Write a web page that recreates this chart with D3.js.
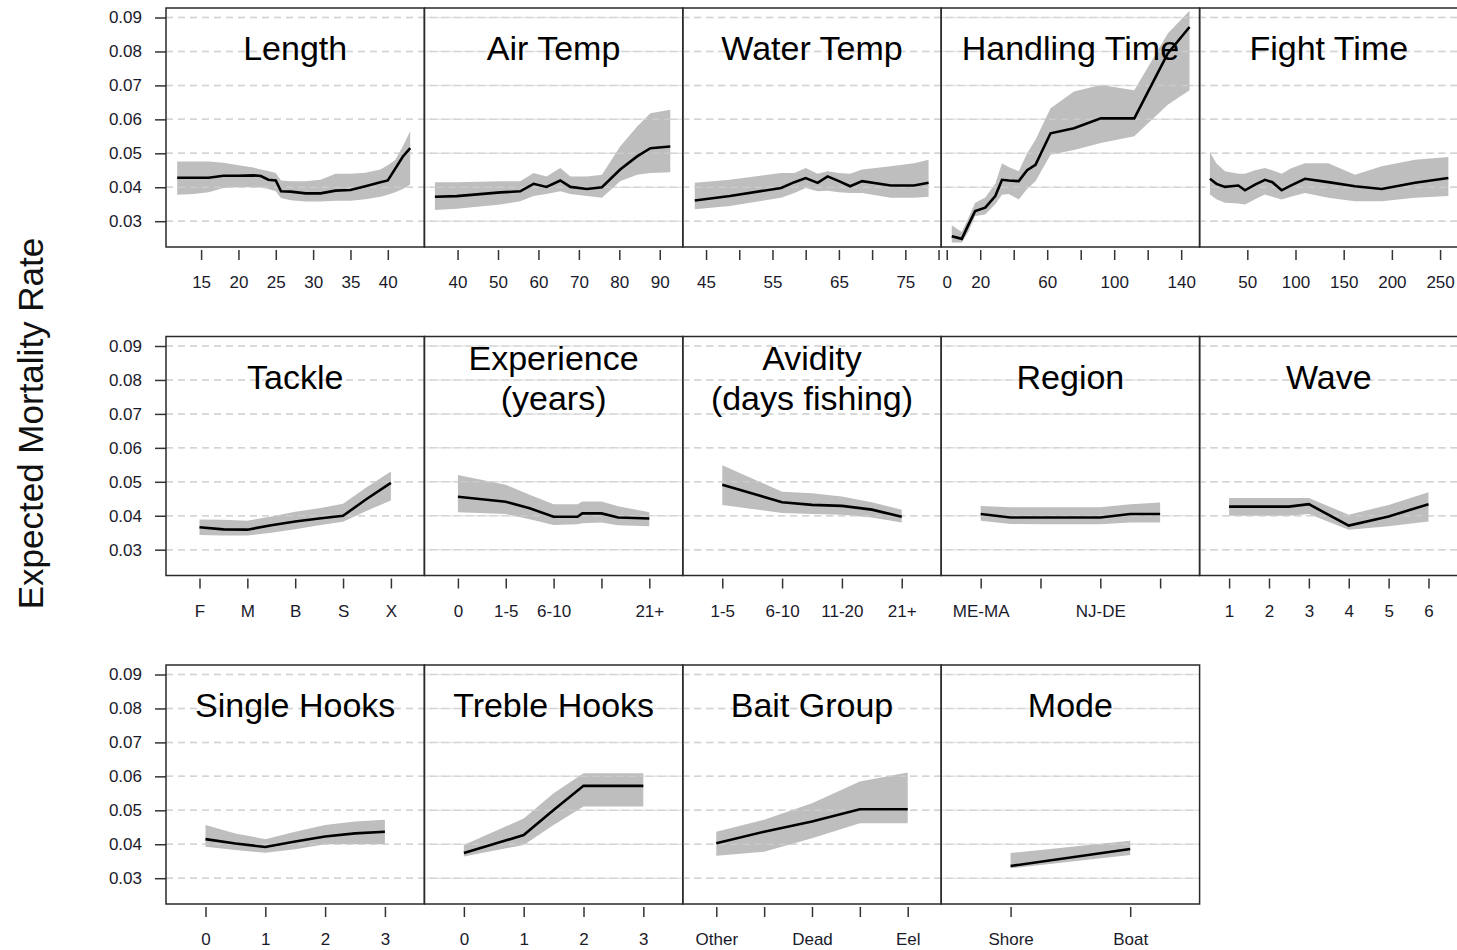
<!DOCTYPE html>
<html lang="en">
<head>
<meta charset="UTF-8">
<title>Expected Mortality Rate</title>
<style>
  body { margin: 0; background: #fff; }
  text { font-family: "Liberation Sans", Arial, sans-serif; }
</style>
</head>
<body>
<script src="https://cdn.jsdelivr.net/npm/d3@7"></script>
<script>
// ---- data ----
const yTicks = [0.03, 0.04, 0.05, 0.06, 0.07, 0.08, 0.09];
const yDomain = [0.0224, 0.0928];

// continuous panels
const lengthX = [11.8, 14, 16, 18, 20, 22, 23, 24, 25, 25.7, 27, 29, 31, 33, 35, 37, 39, 40, 41, 42, 43];
const lengthMean = [0.0428, 0.0428, 0.0428, 0.0434, 0.0434, 0.0435, 0.0433, 0.0422, 0.0420, 0.0388, 0.0387, 0.0382, 0.0382, 0.0390, 0.0392, 0.0403, 0.0415, 0.0420, 0.0455, 0.0490, 0.0515];
const lengthUpper = [0.0476, 0.0476, 0.0476, 0.0472, 0.0465, 0.0458, 0.0452, 0.0448, 0.0442, 0.0420, 0.0418, 0.0418, 0.0422, 0.0440, 0.0440, 0.0443, 0.0452, 0.0465, 0.0480, 0.0520, 0.0566];
const lengthLower = [0.0378, 0.0380, 0.0385, 0.0398, 0.0400, 0.0400, 0.0399, 0.0395, 0.0388, 0.0368, 0.0362, 0.0358, 0.0358, 0.0360, 0.0360, 0.0365, 0.0372, 0.0378, 0.0385, 0.0395, 0.0408];
const lengthDomain = [10.3, 44.9];
const lengthTicks = [15, 20, 25, 30, 35, 40];
const lengthLabels = ["15", "20", "25", "30", "35", "40"];

const airX = [34.4, 39.8, 50.6, 55.5, 58.8, 62, 65.4, 67.9, 72, 75.7, 80.2, 84.4, 87.7, 92.6];
const airMean = [0.0372, 0.0374, 0.0385, 0.0388, 0.0410, 0.0401, 0.0420, 0.0401, 0.0395, 0.0400, 0.0452, 0.0491, 0.0515, 0.0520];
const airUpper = [0.0415, 0.0415, 0.0418, 0.0418, 0.0442, 0.0432, 0.0457, 0.0432, 0.0432, 0.0437, 0.0520, 0.0579, 0.0618, 0.0628];
const airLower = [0.0333, 0.0337, 0.0349, 0.0359, 0.0374, 0.0380, 0.0388, 0.0380, 0.0374, 0.0369, 0.0418, 0.0437, 0.0442, 0.0444];
const airDomain = [31.8, 95.7];
const airTicks = [40, 50, 60, 70, 80, 90];
const airLabels = ["40", "50", "60", "70", "80", "90"];

const waterX = [43.3, 48.6, 56.3, 58.3, 60, 61.8, 63.3, 65, 66.7, 68.5, 72.8, 76.3, 78.5];
const waterMean = [0.0361, 0.0374, 0.0398, 0.0415, 0.0427, 0.0413, 0.0432, 0.0418, 0.0403, 0.0418, 0.0405, 0.0405, 0.0413];
const waterUpper = [0.0413, 0.0422, 0.0442, 0.0442, 0.0457, 0.0440, 0.0447, 0.0442, 0.0440, 0.0452, 0.0462, 0.0471, 0.0481];
const waterLower = [0.0335, 0.0345, 0.0369, 0.0383, 0.0398, 0.0388, 0.0390, 0.0385, 0.0383, 0.0383, 0.0369, 0.0369, 0.0372];
const waterDomain = [41.5, 80.4];
const waterTicks = [45, 50, 55, 60, 65, 70, 75, 80];
const waterLabels = ["45", "", "55", "", "65", "", "75", ""];

const handlingX = [3, 9, 13, 17, 23, 29, 33, 37, 43, 48, 53, 62, 76, 92, 112, 132, 145];
const handlingMean = [0.0256, 0.0248, 0.0290, 0.0330, 0.0340, 0.0374, 0.0422, 0.0420, 0.0418, 0.0450, 0.0466, 0.0559, 0.0574, 0.0603, 0.0603, 0.0794, 0.0872];
const handlingUpper = [0.0288, 0.0268, 0.0310, 0.0354, 0.0370, 0.0410, 0.0471, 0.0460, 0.0447, 0.0500, 0.0540, 0.0633, 0.0682, 0.0701, 0.0686, 0.0853, 0.0920];
const handlingLower = [0.0237, 0.0237, 0.0270, 0.0315, 0.0320, 0.0350, 0.0378, 0.0380, 0.0364, 0.0395, 0.0418, 0.0496, 0.0510, 0.0530, 0.0550, 0.0643, 0.0686];
const handlingDomain = [-3.3, 151];
const handlingTicks = [0, 20, 40, 60, 80, 100, 120, 140];
const handlingLabels = ["0", "20", "", "60", "", "100", "", "140"];

const fightX = [11.2, 18, 26.8, 40.7, 47.6, 58, 68.3, 76, 85.6, 95, 109.8, 134, 161.7, 189.4, 224, 258.6];
const fightMean = [0.0425, 0.0410, 0.0401, 0.0405, 0.0391, 0.0408, 0.0422, 0.0415, 0.0391, 0.0405, 0.0425, 0.0415, 0.0403, 0.0395, 0.0413, 0.0427];
const fightUpper = [0.0503, 0.0470, 0.0447, 0.0440, 0.0440, 0.0450, 0.0457, 0.0450, 0.0440, 0.0455, 0.0471, 0.0471, 0.0437, 0.0462, 0.0481, 0.0489];
const fightLower = [0.0379, 0.0365, 0.0354, 0.0352, 0.0349, 0.0365, 0.0379, 0.0372, 0.0364, 0.0372, 0.0383, 0.0369, 0.0359, 0.0359, 0.0369, 0.0374];
const fightDomain = [0.5, 268.6];
const fightTicks = [50, 100, 150, 200, 250];
const fightLabels = ["50", "100", "150", "200", "250"];

// categorical panels (x = category position 1..n)
const tackleCats = ["F", "M", "B", "S", "X"];
const tackleX = [1, 1.5, 2, 2.5, 3, 3.5, 4, 4.5, 5];
const tackleMean = [0.0366, 0.0360, 0.0359, 0.0372, 0.0383, 0.0392, 0.0400, 0.0450, 0.0497];
const tackleUpper = [0.0389, 0.0388, 0.0385, 0.0398, 0.0412, 0.0422, 0.0435, 0.0485, 0.0530];
const tackleLower = [0.0343, 0.0342, 0.0342, 0.0350, 0.0360, 0.0372, 0.0382, 0.0415, 0.0445];

const experienceCats = ["0", "1-5", "6-10", "", "21+"];
const experienceX = [1, 2, 2.5, 3, 3.5, 3.6, 4, 4.35, 5];
const experienceMean = [0.0456, 0.0441, 0.0422, 0.0397, 0.0397, 0.0407, 0.0407, 0.0395, 0.0392];
const experienceUpper = [0.0520, 0.0491, 0.0462, 0.0434, 0.0434, 0.0442, 0.0442, 0.0428, 0.0410];
const experienceLower = [0.0410, 0.0405, 0.0390, 0.0373, 0.0375, 0.0378, 0.0380, 0.0372, 0.0369];

const avidityCats = ["1-5", "6-10", "11-20", "21+"];
const avidityX = [1, 2, 2.5, 3, 3.5, 4];
const avidityMean = [0.0491, 0.0440, 0.0432, 0.0429, 0.0418, 0.0397];
const avidityUpper = [0.0549, 0.0471, 0.0466, 0.0457, 0.0440, 0.0418];
const avidityLower = [0.0432, 0.0408, 0.0405, 0.0403, 0.0395, 0.0380];

const regionCats = ["ME-MA", "", "NJ-DE", ""];
const regionX = [1, 1.5, 2, 3, 3.5, 4];
const regionMean = [0.0405, 0.0395, 0.0395, 0.0395, 0.0405, 0.0405];
const regionUpper = [0.0429, 0.0425, 0.0425, 0.0425, 0.0434, 0.0439];
const regionLower = [0.0385, 0.0376, 0.0375, 0.0375, 0.0380, 0.0380];

const waveCats = ["1", "2", "3", "4", "5", "6"];
const waveX = [1, 2, 2.5, 3, 4, 5, 6];
const waveMean = [0.0427, 0.0427, 0.0427, 0.0434, 0.0371, 0.0398, 0.0434];
const waveUpper = [0.0452, 0.0452, 0.0452, 0.0452, 0.0403, 0.0432, 0.0469];
const waveLower = [0.0400, 0.0400, 0.0400, 0.0405, 0.0359, 0.0369, 0.0383];

const singleCats = ["0", "1", "2", "3"];
const singleX = [1, 1.5, 2, 2.5, 3, 3.5, 4];
const singleMean = [0.0415, 0.0402, 0.0392, 0.0408, 0.0423, 0.0432, 0.0437];
const singleUpper = [0.0457, 0.0432, 0.0415, 0.0437, 0.0457, 0.0467, 0.0472];
const singleLower = [0.0393, 0.0383, 0.0375, 0.0385, 0.0400, 0.0400, 0.0400];

const trebleCats = ["0", "1", "2", "3"];
const trebleX = [1, 2, 2.5, 3, 4];
const trebleMean = [0.0374, 0.0427, 0.0501, 0.0572, 0.0572];
const trebleUpper = [0.0398, 0.0476, 0.0550, 0.0609, 0.0609];
const trebleLower = [0.0364, 0.0398, 0.0457, 0.0511, 0.0511];

const baitCats = ["Other", "", "Dead", "", "Eel"];
const baitX = [1, 2, 3, 4, 5];
const baitMean = [0.0403, 0.0437, 0.0467, 0.0503, 0.0503];
const baitUpper = [0.0437, 0.0472, 0.0521, 0.0585, 0.0611];
const baitLower = [0.0366, 0.0378, 0.0418, 0.0462, 0.0462];

const modeCats = ["Shore", "Boat"];
const modeX = [1, 2];
const modeMean = [0.0336, 0.0386];
const modeUpper = [0.0374, 0.0410];
const modeLower = [0.0329, 0.0368];

// ---- layout ----
const W = 1457, H = 950;
const left = 166, panelW = 258.4, panelH = 239;
const rowTop = [8, 336.5, 665];

const catDomain = (n) => [0.5 - 0.04 * n, n + 0.5 + 0.04 * n];
const idx = (a) => a.map((d, i) => i + 1);

const panels = [
  { row: 0, col: 0, title: ["Length"], x: lengthX, mean: lengthMean, upper: lengthUpper, lower: lengthLower, domain: lengthDomain, ticks: lengthTicks, labels: lengthLabels },
  { row: 0, col: 1, title: ["Air Temp"], x: airX, mean: airMean, upper: airUpper, lower: airLower, domain: airDomain, ticks: airTicks, labels: airLabels },
  { row: 0, col: 2, title: ["Water Temp"], x: waterX, mean: waterMean, upper: waterUpper, lower: waterLower, domain: waterDomain, ticks: waterTicks, labels: waterLabels },
  { row: 0, col: 3, title: ["Handling Time"], x: handlingX, mean: handlingMean, upper: handlingUpper, lower: handlingLower, domain: handlingDomain, ticks: handlingTicks, labels: handlingLabels },
  { row: 0, col: 4, title: ["Fight Time"], x: fightX, mean: fightMean, upper: fightUpper, lower: fightLower, domain: fightDomain, ticks: fightTicks, labels: fightLabels },
  { row: 1, col: 0, title: ["Tackle"], x: tackleX, mean: tackleMean, upper: tackleUpper, lower: tackleLower, domain: catDomain(tackleCats.length), ticks: idx(tackleCats), labels: tackleCats },
  { row: 1, col: 1, title: ["Experience", "(years)"], x: experienceX, mean: experienceMean, upper: experienceUpper, lower: experienceLower, domain: catDomain(experienceCats.length), ticks: idx(experienceCats), labels: experienceCats },
  { row: 1, col: 2, title: ["Avidity", "(days fishing)"], x: avidityX, mean: avidityMean, upper: avidityUpper, lower: avidityLower, domain: catDomain(avidityCats.length), ticks: idx(avidityCats), labels: avidityCats },
  { row: 1, col: 3, title: ["Region"], x: regionX, mean: regionMean, upper: regionUpper, lower: regionLower, domain: catDomain(regionCats.length), ticks: idx(regionCats), labels: regionCats },
  { row: 1, col: 4, title: ["Wave"], x: waveX, mean: waveMean, upper: waveUpper, lower: waveLower, domain: catDomain(waveCats.length), ticks: idx(waveCats), labels: waveCats },
  { row: 2, col: 0, title: ["Single Hooks"], x: singleX, mean: singleMean, upper: singleUpper, lower: singleLower, domain: catDomain(singleCats.length), ticks: idx(singleCats), labels: singleCats },
  { row: 2, col: 1, title: ["Treble Hooks"], x: trebleX, mean: trebleMean, upper: trebleUpper, lower: trebleLower, domain: catDomain(trebleCats.length), ticks: idx(trebleCats), labels: trebleCats },
  { row: 2, col: 2, title: ["Bait Group"], x: baitX, mean: baitMean, upper: baitUpper, lower: baitLower, domain: catDomain(baitCats.length), ticks: idx(baitCats), labels: baitCats },
  { row: 2, col: 3, title: ["Mode"], x: modeX, mean: modeMean, upper: modeUpper, lower: modeLower, domain: catDomain(modeCats.length), ticks: idx(modeCats), labels: modeCats }
];

const svg = d3.select('body')
  .append('svg')
  .attr('width', W)
  .attr('height', H)
  .style('display', 'block');

// y axis title
svg.append('text')
  .attr('transform', 'translate(43,423.5) rotate(-90)')
  .attr('text-anchor', 'middle')
  .attr('font-size', 35)
  .attr('fill', '#111')
  .text('Expected Mortality Rate');

const rowCount = [5, 5, 4];

rowTop.forEach((top, r) => {
  const yScale = d3.scaleLinear().domain(yDomain).range([top + panelH, top]);
  const g = svg.append('g');

  // dashed grid across the whole row
  g.selectAll('line.grid')
    .data(yTicks)
    .enter()
    .append('line')
    .attr('x1', left)
    .attr('x2', left + panelW * rowCount[r])
    .attr('y1', (d) => yScale(d))
    .attr('y2', (d) => yScale(d))
    .attr('stroke', '#d4d4d4')
    .attr('stroke-width', 1.5)
    .attr('stroke-dasharray', '7,5');

  // left axis
  const yAxis = g.append('g')
    .attr('transform', `translate(${left},0)`)
    .call(d3.axisLeft(yScale).tickValues(yTicks).tickFormat(d3.format('.2f')).tickSize(11).tickPadding(13));
  yAxis.select('.domain').remove();
  yAxis.selectAll('line').attr('stroke', '#333').attr('stroke-width', 1.5);
  yAxis.selectAll('text').attr('font-size', 17).attr('fill', '#1a1a2a')
    .style('font-family', '"Liberation Sans", Arial, sans-serif');
});

panels.forEach((p, i) => {
  const top = rowTop[p.row];
  const x0 = left + p.col * panelW;
  const xScale = d3.scaleLinear().domain(p.domain).range([x0, x0 + panelW]);
  const yScale = d3.scaleLinear().domain(yDomain).range([top + panelH, top]);
  const pts = p.x.map((d, k) => ({ x: d, m: p.mean[k], u: p.upper[k], l: p.lower[k] }));

  const g = svg.append('g');
  g.append('clipPath').attr('id', 'clip' + i)
    .append('rect').attr('x', x0).attr('y', top).attr('width', panelW).attr('height', panelH);

  const plot = g.append('g').attr('clip-path', `url(#clip${i})`);

  plot.append('path')
    .datum(pts)
    .attr('fill', '#bebebe')
    .attr('d', d3.area().x((d) => xScale(d.x)).y0((d) => yScale(d.l)).y1((d) => yScale(d.u)));

  // grid shows through the band
  plot.selectAll('line.g2')
    .data(yTicks)
    .enter()
    .append('line')
    .attr('x1', x0).attr('x2', x0 + panelW)
    .attr('y1', (d) => yScale(d)).attr('y2', (d) => yScale(d))
    .attr('stroke', '#d4d4d4')
    .attr('stroke-opacity', 0.6)
    .attr('stroke-width', 1.5)
    .attr('stroke-dasharray', '7,5');

  plot.append('path')
    .datum(pts)
    .attr('fill', 'none')
    .attr('stroke', '#000')
    .attr('stroke-width', 2.6)
    .attr('d', d3.line().x((d) => xScale(d.x)).y((d) => yScale(d.m)));

  // box
  g.append('rect')
    .attr('x', x0).attr('y', top)
    .attr('width', panelW).attr('height', panelH)
    .attr('fill', 'none')
    .attr('stroke', '#2a2a2a')
    .attr('stroke-width', 1.5);

  // title
  const t = g.append('text')
    .attr('text-anchor', 'middle')
    .attr('font-size', 34)
    .attr('fill', '#000');
  if (p.title.length === 1) {
    t.append('tspan').attr('x', x0 + panelW / 2).attr('y', top + 52).text(p.title[0]);
  } else {
    t.append('tspan').attr('x', x0 + panelW / 2).attr('y', top + 33).text(p.title[0]);
    t.append('tspan').attr('x', x0 + panelW / 2).attr('y', top + 73).text(p.title[1]);
  }

  // bottom axis
  const xAxis = g.append('g')
    .attr('transform', `translate(0,${top + panelH + 3})`)
    .call(d3.axisBottom(xScale).tickValues(p.ticks).tickFormat((d, k) => p.labels[k]).tickSize(10).tickPadding(16));
  xAxis.select('.domain').remove();
  xAxis.selectAll('line').attr('stroke', '#333').attr('stroke-width', 1.5);
  xAxis.selectAll('text').attr('font-size', 17).attr('fill', '#1a1a2a')
    .style('font-family', '"Liberation Sans", Arial, sans-serif');
});
</script>
</body>
</html>
